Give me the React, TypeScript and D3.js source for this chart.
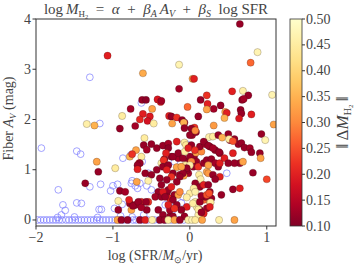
import React from 'react';
import * as d3 from 'd3';

// [log SFR, A_V, ||dM_H2||] for detected galaxies
const detections: [number, number, number][] = [
  [-1.07, 3.27, 0.2], [-0.61, 2.92, 0.34], [-0.62, 2.39, 0.12], [-0.57, 2.39, 0.11],
  [-0.42, 2.4, 0.19], [-0.38, 2.35, 0.2], [-0.77, 2.21, 0.13], [-0.49, 2.21, 0.33],
  [-0.88, 2.07, 0.45], [-0.61, 2.11, 0.2], [-0.65, 2.0, 0.21], [-0.52, 2.06, 0.19], [-0.55, 1.97, 0.18],
  [-0.47, 1.92, 0.45], [-1.34, 1.91, 0.46], [-1.24, 1.88, 0.35],
  [-0.91, 1.82, 0.12], [-0.71, 1.87, 0.13], [-0.27, 2.07, 0.2],
  [0.65, 3.9, 0.12], [0.88, 3.34, 0.47], [0.79, 3.13, 0.27], [-0.14, 3.09, 0.47],
  [0.035, 2.81, 0.33], [0.055, 2.81, 0.2], [-0.14, 2.61, 0.13],
  [0.55, 2.56, 0.2], [0.69, 2.57, 0.46], [0.76, 2.48, 0.12], [1.07, 2.49, 0.47],
  [0.22, 2.48, 0.22], [0.68, 2.39, 0.12], [0.14, 2.39, 0.12], [0.7, 2.41, 0.13],
  [0.23, 2.31, 0.2], [0.4, 2.28, 0.12], [0.31, 2.21, 0.13], [0.22, 2.2, 0.33],
  [-0.03, 2.25, 0.27], [-0.37, 2.37, 0.13],
  [0.46, 2.15, 0.33], [0.48, 2.13, 0.2], [0.66, 2.19, 0.12], [0.67, 2.12, 0.12], [0.8, 2.1, 0.2],
  [0.45, 2.03, 0.35], [0.64, 2.02, 0.19], [0.11, 2.06, 0.12], [-0.24, 2.06, 0.12], [-0.17, 2.04, 0.22],
  [-0.1, 1.99, 0.12], [-0.07, 1.94, 0.13], [-0.23, 1.92, 0.33], [-0.08, 1.94, 0.35],
  [0.31, 1.88, 0.32], [0.06, 1.84, 0.22], [1.09, 1.9, 0.33],
  [-0.07, 1.83, 0.12], [0.02, 1.82, 0.12], [0.03, 1.69, 0.13],
  [-0.59, 1.63, 0.45], [-0.6, 1.49, 0.12], [-0.56, 1.4, 0.13], [-0.7, 1.39, 0.33],
  [-0.78, 1.26, 0.35], [-0.63, 1.26, 0.45], [-0.75, 1.31, 0.22],
  [-0.43, 1.43, 0.12], [-0.35, 1.48, 0.12], [-0.28, 1.52, 0.13], [-0.28, 1.43, 0.11], [-0.5, 1.51, 0.12],
  [-0.17, 1.56, 0.2], [-0.07, 1.54, 0.45], [-0.05, 1.49, 0.44],
  [-0.33, 1.21, 0.12], [-0.24, 1.26, 0.12], [-0.15, 1.23, 0.13], [-0.37, 1.13, 0.46],
  [-0.03, 1.17, 0.12], [0.055, 1.26, 0.12], [0.085, 1.16, 0.12], [-0.66, 1.13, 0.22],
  [-0.31, 1.33, 0.2], [-0.34, 1.19, 0.22], [0.08, 1.34, 0.33], [0.15, 1.36, 0.3],
  [0.02, 1.49, 0.12], [0.13, 1.46, 0.12], [0.2, 1.51, 0.13], [0.26, 1.46, 0.12], [0.33, 1.39, 0.12], [0.39, 1.33, 0.12],
  [0.25, 1.65, 0.46], [0.3, 1.66, 0.45],
  [0.37, 1.69, 0.12], [0.5, 1.71, 0.12], [0.52, 1.59, 0.13], [0.58, 1.61, 0.12], [0.63, 1.51, 0.12],
  [0.42, 1.64, 0.35], [0.51, 1.61, 0.45], [0.56, 1.57, 0.25],
  [0.67, 1.53, 0.12], [0.71, 1.44, 0.12], [0.78, 1.43, 0.13], [0.8, 1.35, 0.12],
  [0.93, 1.71, 0.12], [0.98, 1.59, 0.47], [0.91, 1.33, 0.12], [0.92, 1.23, 0.33],
  [0.0, 1.69, 0.12], [0.08, 1.75, 0.12], [0.07, 1.78, 0.3],
  [0.065, 1.39, 0.22], [0.18, 1.56, 0.12], [0.24, 1.48, 0.12], [0.3, 1.43, 0.13], [0.38, 1.35, 0.12],
  [-0.22, 1.26, 0.12], [-0.15, 1.33, 0.12], [-0.09, 1.23, 0.12], [0.0, 1.26, 0.12],
  [0.02, 1.16, 0.3], [-0.065, 1.36, 0.45], [-0.02, 1.43, 0.2],
  [0.045, 1.06, 0.12], [-0.02, 0.93, 0.13], [0.11, 1.06, 0.22],
  [0.18, 1.13, 0.12], [0.22, 1.19, 0.12], [0.28, 1.21, 0.12], [0.33, 1.13, 0.13], [0.37, 1.06, 0.12],
  [0.24, 1.09, 0.33], [0.39, 1.13, 0.2],
  [0.45, 1.23, 0.2], [0.56, 1.33, 0.2], [0.65, 1.13, 0.12], [0.69, 1.16, 0.33],
  [0.5, 1.13, 0.12], [0.58, 1.13, 0.12],
  [-1.21, 1.16, 0.33], [-1.19, 0.96, 0.12], [-0.97, 1.03, 0.45],
  [-0.65, 1.13, 0.12], [-0.43, 1.0, 0.12], [-0.39, 0.83, 0.12], [-0.35, 1.06, 0.12],
  [-0.68, 1.09, 0.12], [-0.17, 1.05, 0.33], [-0.28, 1.09, 0.12], [-0.22, 0.93, 0.12], [-0.13, 0.9, 0.13],
  [-0.06, 1.09, 0.45], [0.0, 1.09, 0.46], [-0.04, 0.99, 0.12], [-0.08, 0.88, 0.33],
  [-0.68, 1.01, 0.2], [-0.58, 0.93, 0.12], [-0.5, 0.9, 0.12], [-0.69, 0.76, 0.33], [-0.54, 0.78, 0.46],
  [-0.41, 0.56, 0.12], [-0.45, 0.46, 0.13], [-0.37, 0.46, 0.12], [-0.3, 0.53, 0.12], [-0.26, 0.43, 0.2], [-0.2, 0.5, 0.12],
  [-0.15, 0.5, 0.33], [-0.63, 0.36, 0.2], [-0.54, 0.36, 0.22], [-0.78, 0.33, 0.12], [-0.71, 0.3, 0.13],
  [-0.76, 0.2, 0.33], [-0.56, 0.2, 0.12], [-0.41, 0.2, 0.12], [-0.35, 0.1, 0.12], [-0.26, 0.07, 0.12],
  [-0.11, 0.2, 0.45], [-0.04, 0.26, 0.2],
  [-1.36, 0.73, 0.12], [-0.93, 0.38, 0.46], [-0.91, 0.58, 0.12], [-0.84, 0.56, 0.13], [-0.93, 0.2, 0.12],
  [-0.79, 0.4, 0.2], [-0.74, 0.28, 0.12], [-0.67, 0.36, 0.12], [-0.63, 0.25, 0.13], [-0.57, 0.36, 0.12],
  [-0.3, 1.0, 0.2], [-0.24, 0.86, 0.22], [-0.3, 0.8, 0.12], [-0.37, 0.7, 0.12], [-0.28, 0.6, 0.12],
  [-0.24, 0.66, 0.2], [-0.35, 0.56, 0.19], [-0.04, 1.03, 0.12], [-0.09, 0.93, 0.12], [-0.13, 0.86, 0.12], [-0.17, 0.76, 0.12],
  [-0.11, 1.06, 0.33],
  [-0.32, 0.46, 0.12], [-0.22, 0.4, 0.12], [-0.17, 0.3, 0.12], [-0.26, 0.2, 0.13], [-0.22, 0.07, 0.12], [-0.11, 0.2, 0.12], [-0.07, 0.07, 0.12],
  [-0.28, 0.3, 0.2], [-0.2, 0.23, 0.22], [-0.13, 0.56, 0.3], [0.0, 0.53, 0.45], [-0.04, 0.45, 0.46],
  [0.07, 0.36, 0.45], [0.18, 0.4, 0.27], [0.26, 0.36, 0.33], [0.09, 0.26, 0.46], [0.13, 0.2, 0.12], [0.22, 0.23, 0.12],
  [0.18, 0.13, 0.2], [0.11, 0.1, 0.46],
  [0.22, 0.96, 0.33], [0.24, 0.93, 0.32], [0.39, 0.86, 0.2], [0.3, 0.9, 0.12], [0.33, 0.81, 0.12],
  [0.12, 0.9, 0.45], [0.14, 0.81, 0.46], [0.07, 0.73, 0.12], [0.13, 0.66, 0.12], [0.05, 0.63, 0.45], [0.07, 0.56, 0.46],
  [0.18, 0.7, 0.2], [0.24, 0.7, 0.12], [0.26, 0.56, 0.12], [0.2, 0.46, 0.12], [0.41, 0.5, 0.12], [0.28, 0.43, 0.12],
  [0.04, 0.33, 0.45], [0.27, 0.35, 0.45], [0.13, 0.36, 0.12], [0.15, 0.48, 0.12], [0.26, 0.26, 0.2], [0.11, 0.21, 0.45],
  [0.15, 0.15, 0.12], [0.22, 0.5, 0.25], [0.25, 0.53, 0.25],
  [0.56, 0.61, 0.12], [0.65, 0.63, 0.2], [0.82, 0.94, 0.12], [1.0, 0.81, 0.24],
  [-0.94, 0, 0.33], [-0.89, 0, 0.12], [-0.81, 0, 0.12], [-0.65, 0, 0.12], [-0.58, 0, 0.2],
  [-0.49, 0, 0.46], [-0.39, 0, 0.12], [-0.33, 0, 0.12], [-0.28, 0, 0.45], [-0.2, 0, 0.33], [-0.13, 0, 0.12],
  [-0.02, 0, 0.46], [0.03, 0, 0.47], [0.07, 0, 0.45], [0.16, 0, 0.33], [0.38, 0, 0.46], [0.58, 0, 0.33],
];

// [log SFR, A_V] for non-detections (open blue circles)
const upperLimits: [number, number][] = [
  [-1.93, 1.43], [-1.47, 1.37], [-1.42, 1.31], [-1.3, 2.84], [-1.17, 1.92], [-0.63, 2.33],
  [-1.16, 0.71], [-1.3, 0.66], [-1.71, 0.6], [-1.0, 0.68], [-0.94, 0.71], [-1.03, 0.58],
  [-0.87, 1.23], [-0.77, 1.29], [-0.62, 1.16], [-0.75, 0.78], [-0.68, 0.63], [-0.65, 0.73], [-0.56, 0.68],
  [-1.47, 0.34], [-1.41, 0.33], [-1.65, 0.3], [-1.62, 0.19], [-1.18, 0.21], [-1.15, 0.21], [-0.98, 0.23],
  [-1.67, 0.1], [-0.88, 0.31], [-0.76, 0.73], [-0.71, 0.68], [-0.54, 0.93], [-0.09, 0.46], [-0.2, 0.26],
  [-0.5, 0.6], [-0.2, 1.16], [-0.04, 1.51], [0.48, 0.93], [-0.32, 0.3], [-0.11, 0.34], [-0.22, 0.2], [0.0, 1.16],
  [-1.98, 0], [-1.94, 0], [-1.9, 0], [-1.86, 0], [-1.82, 0], [-1.78, 0], [-1.74, 0], [-1.7, 0],
  [-1.66, 0], [-1.61, 0], [-1.57, 0], [-1.53, 0], [-1.49, 0], [-1.45, 0], [-1.41, 0], [-1.37, 0],
  [-1.33, 0], [-1.29, 0], [-1.25, 0], [-1.21, 0], [-1.17, 0], [-1.13, 0], [-1.09, 0], [-1.05, 0],
  [-1.01, 0], [-0.97, 0], [-0.92, 0], [-0.86, 0], [-0.8, 0], [-0.74, 0], [-0.7, 0], [-0.62, 0],
  [-0.55, 0], [-0.46, 0], [-0.4, 0], [-0.32, 0], [-0.24, 0], [-0.16, 0], [-0.08, 0],
  [-1.5, 0.06], [-1.2, 0.05], [-0.9, 0.08], [-0.75, 0.06], [-0.6, 0.1], [-1.72, 0.05],
];

const xTicks = [-2, -1, 0, 1];
const yTicks = [0, 1, 2, 3, 4];
const cbTicks = [0.1, 0.15, 0.2, 0.25, 0.3, 0.35, 0.4, 0.45, 0.5];

const font = '"Liberation Serif", serif';
const textColor = '#444';
const fs = 14;

const App = () => {
  const x = d3.scaleLinear().domain([-2, 1.12]).range([36, 276]);
  const y = d3.scaleLinear().domain([-0.12, 4]).range([226, 19]);
  const cb = d3.scaleLinear().domain([0.1, 0.5]).range([226, 19]);
  const color = (v: number) => d3.interpolateYlOrRd(1 - (v - 0.1) / 0.4);
  const minus = (v: number) => (v < 0 ? '\u2212' + Math.abs(v) : String(v));

  const [x0, x1] = x.range();
  const [y0, y1] = y.range();

  return (
    <svg width={360} height={270} style={{ position: 'absolute', left: 0, top: 0, background: '#fff' }}
      fontFamily={font}>
      <defs>
        <clipPath id="plot">
          <rect x={x0} y={y1} width={x1 - x0} height={y0 - y1} />
        </clipPath>
        <linearGradient id="cbar" x1="0" y1="1" x2="0" y2="0">
          {d3.range(0, 1.0001, 0.1).map(t => (
            <stop key={t} offset={t} stopColor={color(0.1 + t * 0.4)} />
          ))}
        </linearGradient>
      </defs>

      <g clipPath="url(#plot)">
        {upperLimits.map((d, i) => (
          <circle key={'u' + i} cx={x(d[0])} cy={y(d[1])} r={3.4} fill="none"
            stroke="#7b7bff" strokeWidth={0.7} />
        ))}
        {detections.map((d, i) => (
          <circle key={'d' + i} cx={x(d[0])} cy={y(d[1])} r={3.6} fill={color(d[2])}
            stroke="rgba(40,20,20,0.45)" strokeWidth={0.5} />
        ))}
      </g>

      <rect x={x0} y={y1} width={x1 - x0} height={y0 - y1} fill="none" stroke="#333" strokeWidth={1} />

      {xTicks.map(t => (
        <g key={'x' + t}>
          <line x1={x(t)} x2={x(t)} y1={y0} y2={y0 + 3.5} stroke="#333" />
          <text x={x(t)} y={y0 + 16} textAnchor="middle" fontSize={fs} fill={textColor}>{minus(t)}</text>
        </g>
      ))}
      {yTicks.map(t => (
        <g key={'y' + t}>
          <line x1={x0 - 3.5} x2={x0} y1={y(t)} y2={y(t)} stroke="#333" />
          <text x={x0 - 5} y={y(t) + 4.5} textAnchor="end" fontSize={fs} fill={textColor}>{t}</text>
        </g>
      ))}

      <text x={156} y={14} textAnchor="middle" fontSize={15} fill={textColor}>
        <tspan>{'log\u2009'}</tspan>
        <tspan fontStyle="italic">M</tspan>
        <tspan dy={3} fontSize={9}>H</tspan>
        <tspan dy={1.5} fontSize={6.5}>2</tspan>
        <tspan dy={-4.5}>{'\u2002=\u2002'}</tspan>
        <tspan fontStyle="italic">{'\u03b1'}</tspan>
        <tspan>{'\u2002+\u2002'}</tspan>
        <tspan fontStyle="italic">{'\u03b2'}</tspan>
        <tspan dy={3} fontSize={10} fontStyle="italic">A</tspan>
        <tspan dy={-3} fontStyle="italic">{'\u2009A'}</tspan>
        <tspan dy={3} fontSize={10} fontStyle="italic">V</tspan>
        <tspan dy={-3}>{'\u2002+\u2002'}</tspan>
        <tspan fontStyle="italic">{'\u03b2'}</tspan>
        <tspan dy={3} fontSize={10} fontStyle="italic">S</tspan>
        <tspan dy={-3}>{'\u2002log SFR'}</tspan>
      </text>

      <text transform={`translate(13,${(y0 + y1) / 2 - 4}) rotate(-90)`} textAnchor="middle" fontSize={fs} fill={textColor}>
        <tspan>{'Fiber '}</tspan>
        <tspan fontStyle="italic">A</tspan>
        <tspan dy={3} fontSize={9} fontStyle="italic">V</tspan>
        <tspan dy={-3}>{' (mag)'}</tspan>
      </text>

      <text x={155} y={260} textAnchor="middle" fontSize={fs} fill={textColor}>
        <tspan>{'log (SFR/'}</tspan>
        <tspan fontStyle="italic">M</tspan>
        <tspan dy={3} fontSize={9}>{'\u2299'}</tspan>
        <tspan dy={-3}>{'/yr)'}</tspan>
      </text>

      <rect x={290} y={19} width={12} height={207} fill="url(#cbar)" stroke="#333" strokeWidth={0.8} />
      {cbTicks.map(t => (
        <g key={'c' + t}>
          <line x1={302} x2={305} y1={cb(t)} y2={cb(t)} stroke="#333" />
          <text x={306} y={cb(t) + 4.5} fontSize={fs} fill={textColor}>{t.toFixed(2)}</text>
        </g>
      ))}
      <text transform={`translate(348,${(y0 + y1) / 2}) rotate(-90)`} textAnchor="middle" fontSize={17} fill={textColor}>
        <tspan>{'\u2016\u2009\u0394'}</tspan>
        <tspan fontStyle="italic">M</tspan>
        <tspan dy={3} fontSize={10}>H</tspan>
        <tspan dy={1.5} fontSize={7}>2</tspan>
        <tspan dy={-4.5}>{'\u2009\u2016'}</tspan>
      </text>
    </svg>
  );
};

export default App;
